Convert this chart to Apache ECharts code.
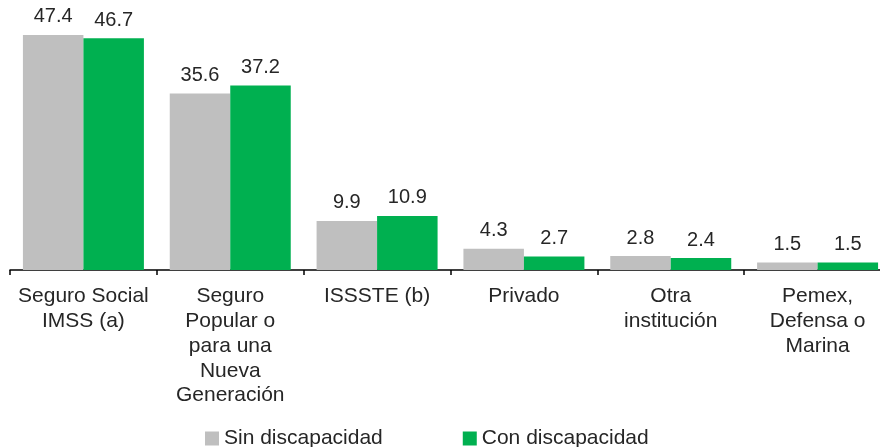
<!DOCTYPE html>
<html>
<head>
<meta charset="utf-8">
<script src="https://cdn.jsdelivr.net/npm/echarts@6/dist/echarts.min.js"></script>
<style>
  html, body { margin: 0; padding: 0; background: #ffffff; overflow: hidden; }
  /* the reference is cropped on the right, so the chart runs past the window */
  #chart { width: 891px; height: 447px; }
</style>
</head>
<body>
<div id="chart"></div>
<script>
const categories = [
  'Seguro Social\nIMSS (a)',
  'Seguro\nPopular o\npara una\nNueva\nGeneración',
  'ISSSTE (b)',
  'Privado',
  'Otra\ninstitución',
  'Pemex,\nDefensa o\nMarina'
];
const sinDiscapacidad = [47.4, 35.6, 9.9, 4.3, 2.8, 1.5];
const conDiscapacidad = [46.7, 37.2, 10.9, 2.7, 2.4, 1.5];
const seriesNames = ['Sin discapacidad', 'Con discapacidad'];

const font = 'Liberation Sans, Arial, sans-serif';
const textColor = '#262626';

const chart = echarts.init(document.getElementById('chart'), null, { renderer: 'canvas' });

const valueLabel = {
  show: true,
  position: 'top',
  distance: 8,
  fontSize: 20,
  fontFamily: font,
  color: textColor,
  formatter: (p) => p.value.toFixed(1)
};

chart.setOption({
  animation: false,
  backgroundColor: '#ffffff',
  grid: {
    left: 10,
    right: 0,
    top: 22,
    bottom: 177
  },
  legend: {
    left: 200,
    top: 423,
    icon: 'rect',
    itemWidth: 14,
    itemHeight: 14,
    itemGap: 80,
    textStyle: { fontSize: 21, fontFamily: font, color: textColor },
    data: seriesNames
  },
  xAxis: {
    type: 'category',
    data: categories,
    axisLine: { lineStyle: { color: '#000000', width: 1.5 } },
    axisTick: { show: true, length: 5, lineStyle: { color: '#000000', width: 1.5 } },
    axisLabel: {
      interval: 0,
      margin: 14,
      fontSize: 21,
      lineHeight: 24.8,
      fontFamily: font,
      color: textColor
    }
  },
  yAxis: {
    type: 'value',
    min: 0,
    max: 50,
    show: false
  },
  series: [
    {
      name: seriesNames[0],
      type: 'bar',
      data: sinDiscapacidad,
      barGap: 0,
      barCategoryGap: '17.6%',
      itemStyle: { color: '#bfbfbf' },
      label: valueLabel
    },
    {
      name: seriesNames[1],
      type: 'bar',
      data: conDiscapacidad,
      barGap: 0,
      barCategoryGap: '17.6%',
      itemStyle: { color: '#00b050' },
      label: valueLabel
    }
  ]
});
</script>
</body>
</html>
